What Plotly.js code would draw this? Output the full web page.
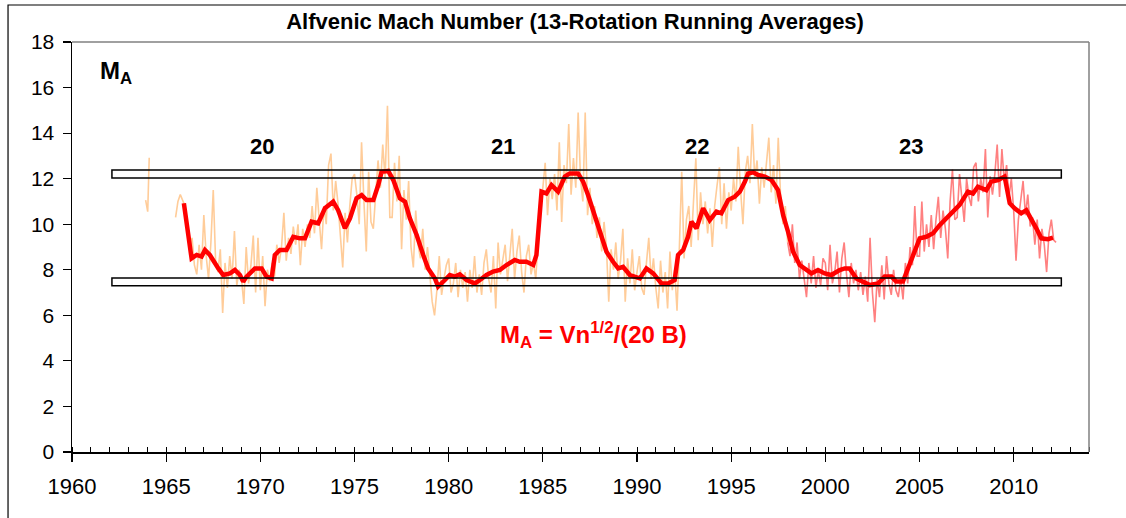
<!DOCTYPE html>
<html><head><meta charset="utf-8">
<script src="https://cdn.plot.ly/plotly-3.0.1.min.js"></script>
<style>html,body{margin:0;padding:0;background:#fff}#chart{width:1126px;height:518px}</style>
</head><body><div id="chart"></div>
<script>
// 13-rotation running average (thick red)
const avgYears = [1965.94,1966.35,1966.62,1966.88,1967.06,1967.32,1967.77,1968.03,1968.39,1968.65,1968.92,1969.09,1969.27,1969.71,1970.07,1970.33,1970.60,1970.77,1971.04,1971.39,1971.75,1972.10,1972.37,1972.72,1973.07,1973.43,1973.87,1974.13,1974.49,1974.76,1975.11,1975.38,1975.64,1976.00,1976.26,1976.44,1976.79,1977.06,1977.41,1977.68,1977.94,1978.30,1978.65,1978.91,1979.27,1979.44,1979.80,1980.06,1980.33,1980.59,1980.95,1981.39,1981.66,1982.01,1982.36,1982.72,1983.07,1983.51,1983.78,1984.13,1984.49,1984.66,1984.93,1985.19,1985.46,1985.81,1986.17,1986.43,1986.87,1987.14,1987.40,1987.67,1988.03,1988.38,1988.73,1989.00,1989.26,1989.62,1990.15,1990.50,1990.86,1991.30,1991.65,1992.00,1992.18,1992.45,1992.71,1992.89,1993.16,1993.51,1993.86,1994.22,1994.48,1994.84,1995.19,1995.46,1995.73,1995.90,1996.17,1996.43,1996.79,1997.14,1997.49,1997.76,1998.02,1998.29,1998.64,1998.91,1999.26,1999.61,1999.97,2000.32,2000.76,2001.03,2001.29,2001.65,2002.00,2002.36,2002.80,2003.15,2003.51,2003.77,2004.12,2004.39,2004.65,2005.01,2005.36,2005.72,2006.07,2006.43,2006.78,2007.13,2007.57,2007.84,2008.10,2008.55,2008.81,2009.17,2009.52,2009.70,2009.79,2010.05,2010.40,2010.67,2010.93,2011.20,2011.47,2011.82,2012.09];
const avgValues = [10.92,8.50,8.65,8.58,8.87,8.65,8.06,7.77,7.84,7.99,7.77,7.48,7.70,8.06,8.06,7.70,7.62,8.65,8.87,8.87,9.45,9.38,9.38,10.11,10.04,10.70,10.99,10.62,9.82,10.26,11.14,11.28,11.06,11.06,11.72,12.30,12.34,11.94,11.14,10.99,10.26,9.53,8.65,8.06,7.62,7.26,7.55,7.77,7.70,7.80,7.55,7.40,7.55,7.77,7.92,7.99,8.21,8.43,8.35,8.35,8.21,8.65,11.43,11.35,11.72,11.43,12.09,12.23,12.23,11.87,11.28,10.55,9.67,8.79,8.35,8.06,8.13,7.77,7.62,8.06,7.84,7.40,7.40,7.55,8.65,8.87,9.45,10.11,9.82,10.70,10.18,10.55,10.48,11.06,11.21,11.43,11.87,12.23,12.28,12.16,12.09,11.94,11.50,10.40,9.67,8.79,8.21,8.06,7.84,7.99,7.84,7.77,7.99,8.06,8.06,7.62,7.48,7.33,7.40,7.70,7.70,7.48,7.48,8.06,8.65,9.38,9.45,9.60,9.96,10.26,10.55,10.85,11.43,11.35,11.65,11.50,11.87,11.94,12.09,11.43,10.92,10.70,10.48,10.62,10.26,9.82,9.38,9.34,9.41];

// early rotation values near 1964
const earlyYears = [1963.91,1964.02,1964.10];
const earlyValues = [11.06,10.55,12.92];

// per-rotation values (sampled every 1/8 year from 1965.5)
const rawStart = 1965.5, rawStep = 0.125;
const rawValues = [
 10.3,11.0,11.3,11.0,
 10.8,9.6,8.9,9.4,8.2,7.8,9.1,8.0,
 10.4,8.6,7.6,9.2,11.5,8.4,7.9,8.9,
 6.1,8.3,7.2,8.6,7.6,9.7,7.3,8.0,
 7.6,6.5,9.0,7.4,8.2,9.5,7.0,9.4,
 7.1,8.6,6.4,8.0,7.5,8.3,7.7,9.1,
 8.3,9.0,10.5,8.4,9.4,8.7,9.9,9.1,
 10.0,8.2,9.8,9.0,10.0,9.4,10.8,9.6,
 11.6,10.2,8.9,10.8,10.0,12.6,13.1,10.6,
 11.9,10.9,9.6,8.1,10.5,9.2,10.8,12.0,
 12.2,11.3,10.0,13.6,11.0,8.8,12.3,10.1,
 9.8,11.2,12.8,11.6,13.5,12.0,15.2,10.3,
 10.3,12.7,11.0,13.0,8.9,11.5,10.2,11.9,
 9.0,8.1,10.6,9.1,8.5,9.8,8.0,9.0,
 7.8,6.6,6.0,7.1,8.6,6.9,7.6,8.2,
 8.5,7.0,7.4,8.3,6.8,8.0,7.2,7.9,
 6.6,8.0,7.2,8.6,7.0,7.8,6.9,8.3,
 8.9,7.6,7.0,8.6,6.3,9.2,7.8,8.4,
 9.1,7.5,8.6,9.8,7.6,8.8,9.5,7.9,
 7.0,8.6,9.1,7.8,8.3,7.6,9.4,10.9,
 11.6,12.7,10.4,12.0,11.1,12.2,10.6,13.6,
 10.1,12.6,11.8,14.4,11.3,12.9,11.6,14.9,
 12.0,11.0,14.9,10.4,11.6,10.0,10.8,9.4,
 10.3,8.8,10.1,9.0,6.6,8.9,8.0,9.2,
 7.6,8.4,9.8,6.6,8.5,7.4,8.9,7.1,
 7.9,8.6,7.2,6.9,8.3,9.4,7.6,8.5,
 7.2,6.3,8.4,7.0,7.9,6.3,8.8,7.1,
 8.0,6.2,9.0,12.3,8.5,10.2,10.8,9.0,
 11.0,12.9,9.3,11.4,10.0,11.0,9.6,10.7,
 9.0,10.8,11.7,12.5,10.0,11.8,9.8,11.4,
 10.6,12.0,11.0,13.4,11.5,10.0,12.3,13.0,
 11.8,14.4,12.0,12.8,10.9,12.5,11.6,12.9,
 13.8,11.4,12.6,10.9,13.8,11.2,10.0,10.8,
 9.2,8.6,10.0,8.3,9.2,7.6,8.4,7.7,
 6.8,8.3,7.4,8.6,7.2,8.0,7.3,8.5,
 8.3,7.1,9.1,7.4,7.9,8.8,7.0,8.5,
 9.2,7.8,6.8,8.3,7.4,8.0,7.1,7.9,
 6.9,7.7,6.6,9.4,7.0,5.7,7.6,6.8,
 8.2,6.7,8.6,7.4,6.9,8.0,7.1,6.8,
 7.6,6.7,8.3,7.4,9.0,8.2,10.8,8.6,
 8.6,11.0,8.8,10.0,9.0,10.4,8.9,10.2,
 11.2,9.4,10.6,9.8,8.5,11.0,12.4,10.2,
 10.3,12.2,11.0,10.1,12.0,11.2,10.8,12.5,
 12.7,11.0,12.0,11.4,13.3,10.3,12.1,11.3,
 12.2,13.5,11.2,13.3,11.9,12.6,11.2,12.0,
 10.6,8.4,10.2,11.0,11.9,10.4,11.3,9.9,
 10.3,9.1,10.2,8.5,9.8,9.1,7.9,9.6,
 10.2,9.3,9.2
];
const colourSplitYear = 1998.0;

const cycleLabels = ['20','21','22','23'];
const cycleYears = [1970.1,1982.86,1993.21,2004.57];
const cycleLabelY = 13.4;

const bandLow = [7.3, 7.64];
const bandHigh = [12.03, 12.38];
const bandYears = [1962.12, 2012.53];

const xTicks = [1960,1965,1970,1975,1980,1985,1990,1995,2000,2005,2010];
const yTicks = [0,2,4,6,8,10,12,14,16,18];

const rawYears = rawValues.map((v,i)=> +(rawStart + i*rawStep).toFixed(3));
const oX=[],oY=[],pX=[],pY=[];
rawYears.forEach((x,i)=>{
  if (x <= colourSplitYear){ oX.push(x); oY.push(rawValues[i]); }
  if (x >= colourSplitYear){ pX.push(x); pY.push(rawValues[i]); }
});

const FONT = 'Arial, "Liberation Sans", sans-serif';
const traces = [
  {x: earlyYears, y: earlyValues, mode:'lines', line:{color:'#FFCC99', width:1.6}, hoverinfo:'skip'},
  {x: oX, y: oY, mode:'lines', line:{color:'#FFCC99', width:1.6}, hoverinfo:'skip'},
  {x: pX, y: pY, mode:'lines', line:{color:'#FF8080', width:1.6}, hoverinfo:'skip'},
  {x: avgYears, y: avgValues, mode:'lines', line:{color:'#FF0000', width:4.5}, hoverinfo:'skip'}
];

const annotations = cycleLabels.map((t,i)=>({
  x: cycleYears[i], y: cycleLabelY, xref:'x', yref:'y', text:'<b>'+t+'</b>', showarrow:false,
  font:{family:FONT, size:22, color:'#000'}
}));
annotations.push({x:1962.35, y:16.68, xref:'x', yref:'y', text:'<b>M<sub>A</sub></b>', showarrow:false,
  font:{family:FONT, size:24, color:'#000'}});
annotations.push({x:1987.7, y:5.15, xref:'x', yref:'y', text:'<b>M<sub>A</sub> = Vn<sup>1/2</sup>/(20 B)</b>', showarrow:false,
  font:{family:FONT, size:24, color:'#FF0000'}});

const shapes = [
  {type:'rect', xref:'x', yref:'y', x0:bandYears[0], x1:bandYears[1], y0:bandHigh[0], y1:bandHigh[1], line:{color:'#000', width:1.5}, fillcolor:'rgba(0,0,0,0)', layer:'above'},
  {type:'rect', xref:'x', yref:'y', x0:bandYears[0], x1:bandYears[1], y0:bandLow[0], y1:bandLow[1], line:{color:'#000', width:1.5}, fillcolor:'rgba(0,0,0,0)', layer:'above'},
  {type:'line', xref:'paper', yref:'paper', x0:0, x1:1, y0:1, y1:1, line:{color:'#808080', width:1.5}},
  {type:'line', xref:'paper', yref:'paper', x0:1, x1:1, y0:0, y1:1, line:{color:'#808080', width:1.5}},
  {type:'rect', xref:'paper', yref:'paper', x0:-0.0629, x1:1.2, y0:-0.5, y1:1.0902, line:{color:'#000', width:1.2}, fillcolor:'rgba(0,0,0,0)'}
];

const layout = {
  width:1126, height:518,
  margin:{l:72, r:37, t:42, b:66},
  paper_bgcolor:'#fff', plot_bgcolor:'#fff',
  showlegend:false,
  title:{text:'<b>Alfvenic Mach Number (13-Rotation Running Averages)</b>', xref:'container', yref:'container',
    x:0.5107, y:0.9595, xanchor:'center', yanchor:'middle', font:{family:FONT, size:22, color:'#000'}},
  xaxis:{range:[1960,2014], tickvals:xTicks, ticktext:xTicks.map(String), ticks:'outside', ticklen:8, tickwidth:1.2,
    tickcolor:'#000', showline:true, linecolor:'#000', linewidth:1.5, showgrid:false, zeroline:false,
    ticklabelstandoff:6,
    tickfont:{family:FONT, size:22, color:'#000'},
    minor:{dtick:1, ticks:'inside', ticklen:5, tickwidth:1, tickcolor:'#000', showgrid:false}},
  yaxis:{range:[0,18], tickvals:yTicks, ticktext:yTicks.map(String), ticks:'outside', ticklen:8, tickwidth:1.2,
    tickcolor:'#000', showline:true, linecolor:'#000', linewidth:1.5, showgrid:false, zeroline:false,
    ticklabelstandoff:4,
    tickfont:{family:FONT, size:21, color:'#000'}},
  annotations, shapes
};
Plotly.newPlot('chart', traces, layout, {staticPlot:true, displayModeBar:false});
</script></body></html>
